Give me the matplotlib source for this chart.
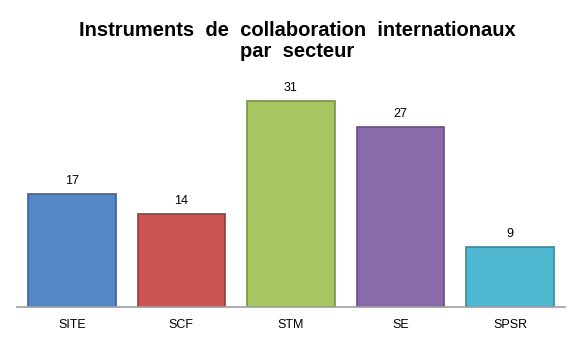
import numpy as np
import matplotlib
matplotlib.use("Agg")
import matplotlib.pyplot as plt

plt.rcParams['font.family'] = ['Liberation Sans', 'DejaVu Sans']

# data
secteurs = ['SITE', 'SCF', 'STM', 'SE', 'SPSR']
valeurs = [17, 14, 31, 27, 9]
couleurs = ['#5586C6', '#CC5553', '#A7C560', '#8A6BAA', '#4FB7CF']
bords = ['#3A6497', '#963A38', '#7A9340', '#654C82', '#358A9E']
titre = ['Instruments  de  collaboration  internationaux', 'par  secteur']

fig = plt.figure(figsize=(5.79, 3.41), dpi=100)
ax = fig.add_axes([17/579, 1 - 307/341, 548/579, 233/341])

x = np.arange(len(secteurs))
bars = ax.bar(x, valeurs, width=0.8, color=couleurs, edgecolor=bords, linewidth=1.2, zorder=2)

# labels au-dessus des barres
for b, v in zip(bars, valeurs):
    ax.annotate(str(v), (b.get_x() + b.get_width() / 2, v), xytext=(0, 5),
                textcoords='offset points', ha='center', va='bottom', fontsize=9)

ax.set_xlim(-0.5, len(secteurs) - 0.5)
ax.set_ylim(0, 35)
ax.set_xticks(x)
ax.set_xticklabels(secteurs, fontsize=9)
ax.tick_params(axis='x', length=0, pad=9)
ax.set_yticks([])
for s in ['top', 'right', 'left']:
    ax.spines[s].set_visible(False)
ax.spines['bottom'].set_color('#A0A0A0')
ax.spines['bottom'].set_linewidth(1.2)

# titre sur deux lignes
fig.text(297/579, 1 - 36/341, titre[0], ha='center', va='baseline',
         fontsize=14.5, fontweight='bold')
fig.text(297/579, 1 - 57/341, titre[1], ha='center', va='baseline',
         fontsize=14.5, fontweight='bold')

fig.savefig('out.png', dpi=100)
